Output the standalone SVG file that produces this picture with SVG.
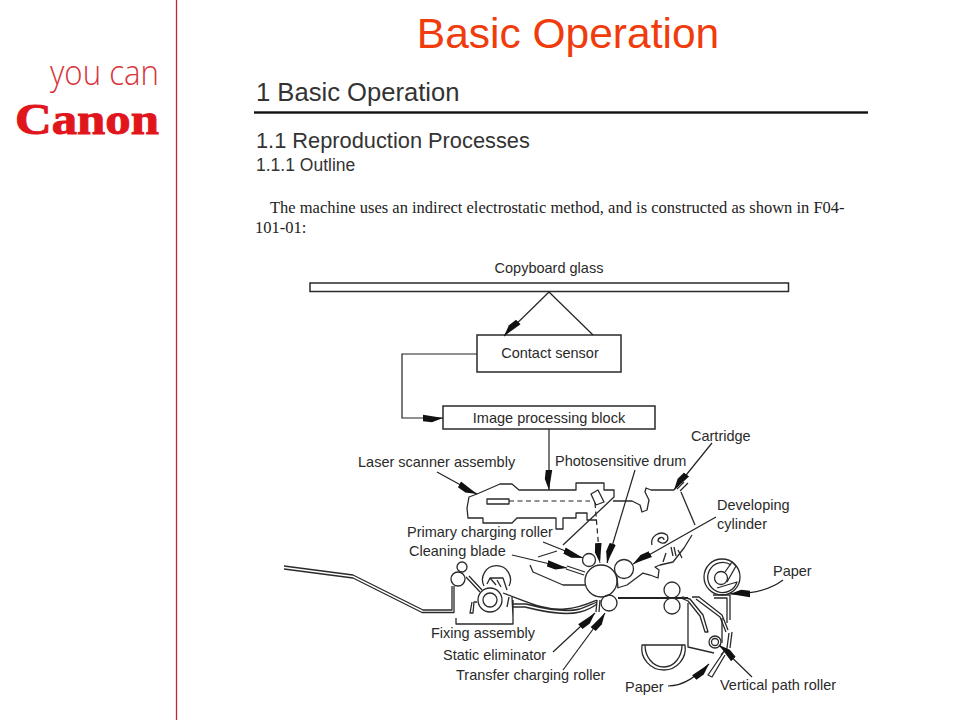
<svg xmlns="http://www.w3.org/2000/svg" width="960" height="720" viewBox="0 0 960 720">
<style>
text{font-family:"Liberation Sans",Arial,sans-serif;fill:#2a2a2a}
.l{font-size:14.500px}
.h{fill:#333}
.s{fill:none;stroke:#2a2a2a;stroke-width:1.300;stroke-linejoin:round}
.b{fill:#fff;stroke:#2a2a2a;stroke-width:1.500}
.c{fill:none;stroke:#222;stroke-width:1.200}
.d{stroke-dasharray:5 3.500}
.a{marker-end:url(#ah)}
</style>
<defs>
<marker id="ah" markerUnits="userSpaceOnUse" markerWidth="22" markerHeight="10" refX="20" refY="5" orient="auto"><path d="M0 1.800L20 5L9 9.200L0 8.200Z" fill="#111"/></marker>
</defs>
<rect width="960" height="720" fill="#fff"/>
<g id="logo">
<line x1="176.500" y1="0" x2="176.500" y2="720" stroke="#c4262e" stroke-width="1.300"/>
<text x="50" y="85" style="font-family:'Open Sans',sans-serif;font-weight:300;font-size:34px;fill:#d8343a" textLength="109" lengthAdjust="spacingAndGlyphs">you can</text>
<text x="15" y="134" style="font-family:'Liberation Serif',serif;font-weight:700;font-size:45px;fill:#e0161c;stroke:#e0161c;stroke-width:1" textLength="144" lengthAdjust="spacingAndGlyphs">Canon</text>
</g>
<g id="page-text">
<text x="568" y="48" text-anchor="middle" style="font-size:42.500px;fill:#f03c0c">Basic Operation</text>
<text x="256" y="101" class="h" style="font-size:25.600px">1 Basic Operation</text>
<rect x="254" y="111.300" width="614" height="2.400" fill="#111"/>
<text x="256" y="148" class="h" style="font-size:21.800px">1.1 Reproduction Processes</text>
<text x="256" y="171" class="h" style="font-size:17.500px">1.1.1 Outline</text>
<text x="270" y="213" style="font-family:'Liberation Serif',serif;font-size:16.500px;fill:#222">The machine uses an indirect electrostatic method, and is constructed as shown in F04-</text>
<text x="255" y="233" style="font-family:'Liberation Serif',serif;font-size:16.500px;fill:#222">101-01:</text>
</g>
<g id="copyboard-glass">
<rect x="310" y="283" width="478.500" height="8.500" class="b"/>
<text x="549" y="273" text-anchor="middle" class="l">Copyboard glass</text>
</g>
<g id="contact-sensor">
<rect x="477" y="335" width="144" height="37" class="b"/>
<text x="550" y="358" text-anchor="middle" class="l">Contact sensor</text>
</g>
<g id="image-processing-block">
<rect x="443" y="406" width="212" height="23" class="b"/>
<text x="549" y="423" text-anchor="middle" class="l">Image processing block</text>
</g>
<g id="laser-scanner">
<path class="s" d="M477 494L500 484H512L519 490H576V483H604V490H614V497L563 545M477 494L469 497L467 508L468 518H483V523H512L517 518H556V529H563V518H576V513H587V520H597"/>
<path class="s" d="M538 557L557 551"/>
<rect x="487" y="499" width="22" height="5" class="s"/>
<path class="s" d="M591 494L598 490L604 502L596 505Z"/>
<text x="358" y="467" class="l">Laser scanner assembly</text>
</g>
<g id="drum-unit">
<circle cx="601" cy="581" r="16" class="s"/>
<circle cx="589" cy="560" r="6.500" class="s"/>
<circle cx="609" cy="603" r="8" class="s"/>
<circle cx="624" cy="569" r="9.500" class="s"/>
<path class="s" d="M530 565L533 572L563 585H585M567 566L585 572M566 569L584 575"/>
<path class="s" d="M597 600L596 612M600 600L599 612"/>
<text x="555" y="466" class="l">Photosensitive drum</text>
<text x="407" y="537" class="l">Primary charging roller</text>
<text x="409" y="556" class="l">Cleaning blade</text>
<text x="443" y="660" class="l">Static eliminator</text>
<text x="456" y="680" class="l">Transfer charging roller</text>
</g>
<g id="cartridge">
<path class="s" d="M674 490H651L646 488L645 492L649 500L647 510L642 512L640 505L632 501L613 501M681 492L695 525M692 535L684 548L673 562L660 565L655 567L659 570L658 578L650 575L643 573L627 585L617 588M617 577L618 588"/>
<path class="s" d="M677 489L684 482M680 491L688 483M652 545C650 536 660 530 667 535C670 541 664 546 658 541C658 537 664 536 664 540M666 553L663 562M678 550L682 558M671 547L673 556M674 547L676 556"/>
<text x="691" y="441" class="l">Cartridge</text>
<text x="717" y="510" class="l">Developing</text>
<text x="717" y="529" class="l">cylinder</text>
</g>
<g id="fixing-assembly">
<circle cx="462" cy="567" r="5" class="s"/>
<circle cx="458" cy="579" r="7" class="s"/>
<path class="s" d="M484 586A14 14 0 1 1 509 586"/>
<circle cx="490" cy="600" r="12" class="s"/>
<circle cx="490" cy="600" r="7" class="s"/>
<path class="s" d="M487 584L490 578H503L507 590M490 578L496 585M497 580L501 587"/>
<path class="s" d="M466 577L480 592M469 576L482 590M456 618V624H513V600M472 602L470 613H473L474 602H477M509 597L507 607M512 597L513 617"/>
<text x="431" y="638" class="l">Fixing assembly</text>
</g>
<g id="paper-path">
<path class="s" d="M284 566L353 575L423 610H452V586M284 569L353 578L422 612.500H454V586"/>
<path class="s" d="M503 593C525 601 545 611 565 609C580 608 590 603 597 600M513 607H525C545 612 565 616 580 612C588 610 593 607 597 604M513 604H526C545 609 565 613 580 609C586 607 592 604 597 602"/>
<path fill="none" stroke="#222" stroke-width="1.800" d="M618 598H688"/>
<circle cx="672" cy="590" r="8" class="s"/>
<circle cx="672" cy="606" r="8" class="s"/>
<path class="s" d="M682 597L690 599L703 615L708 632H705L700 616L688 601L681 598M692 597H699L722 615L728 630M696 599L720 617L726 632"/>
<path class="s" d="M688 603V647L714 653M722 618V643"/>
<circle cx="715" cy="642" r="6" class="s"/>
<circle cx="715" cy="642" r="3.500" class="s"/>
<path class="s" d="M729 633L727 648L721 655M732 632L730 648"/>
<path class="s" d="M723 653L708 675L712 677L725 655"/>
<path class="s" d="M642 645H685C687 658 677 670 664 670C650 670 640 658 642 645ZM645 645C645 657 653 667 664 667C674 667 682 657 682 645"/>
<text x="625" y="692" class="l">Paper</text>
<text x="720" y="690" class="l">Vertical path roller</text>
</g>
<g id="paper-cassette">
<circle cx="722" cy="577" r="18" class="s"/>
<path class="s" d="M731 565A15 15 0 1 0 737 582L717 588"/>
<circle cx="721" cy="578" r="6.500" class="s"/>
<path class="s" d="M725 572L732 562L736 566L727 582"/>
<path class="s" d="M713 595H730M714 598H727V623M730 595V620"/>
<text x="773" y="576" class="l">Paper</text>
</g>
<g id="connectors">
<path class="c a" d="M549 292L504 336"/>
<path class="c" d="M549 292L593 335"/>
<path class="c a" d="M477 354H402V418H443"/>
<path class="c a" d="M549 429V490"/>
<path class="c a" d="M437 472L477 494"/>
<path class="c d" d="M509 501H590"/>
<path class="c d a" d="M595 503L600 563"/>
<path class="c a" d="M635 470L607 563"/>
<path class="c a" d="M712 443L674 490"/>
<path class="c a" d="M716 517L633 564"/>
<path class="c a" d="M543 542L583 558"/>
<path class="c a" d="M512 555L567 568"/>
<path class="c a" d="M553 652L595 613"/>
<path class="c a" d="M563 670L605 613"/>
<path class="c a" d="M783 580C770 590 750 594 730 594"/>
<path class="c a" d="M668 686C685 686 697 675 709 664"/>
<path class="c a" d="M752 677L719 645"/>
</g>
</svg>
